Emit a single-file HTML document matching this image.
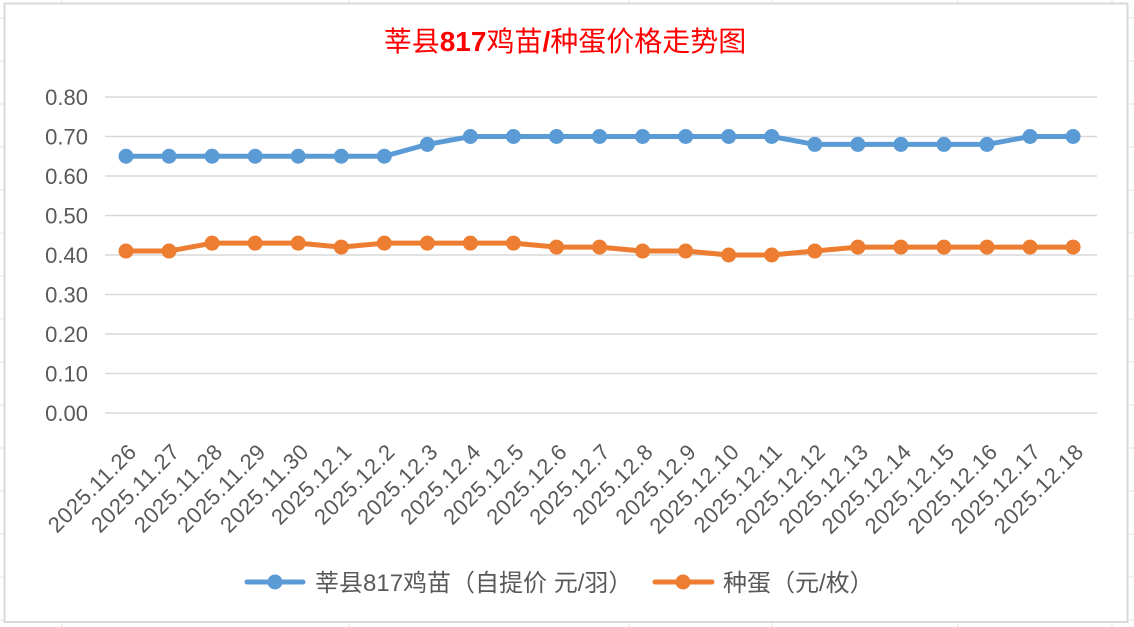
<!DOCTYPE html>
<html>
<head>
<meta charset="utf-8">
<style>
html,body{margin:0;padding:0;background:#fff;}
body{width:1134px;height:627px;overflow:hidden;}
svg{display:block;}
</style>
</head>
<body>
<svg width="1134" height="627" viewBox="0 0 1134 627" xmlns="http://www.w3.org/2000/svg">
<rect x="0" y="0" width="1134" height="627" fill="#fff"/>
<g stroke="#e3e3e3" stroke-width="1">
<line x1="62" y1="0" x2="62" y2="627"/>
<line x1="349" y1="0" x2="349" y2="627"/>
<line x1="629" y1="0" x2="629" y2="627"/>
<line x1="772" y1="0" x2="772" y2="627"/>
<line x1="958" y1="0" x2="958" y2="627"/>
<line x1="1112" y1="0" x2="1112" y2="627"/>
<line x1="0" y1="18" x2="1134" y2="18"/>
<line x1="0" y1="61" x2="1134" y2="61"/>
<line x1="0" y1="104" x2="1134" y2="104"/>
<line x1="0" y1="147" x2="1134" y2="147"/>
<line x1="0" y1="190" x2="1134" y2="190"/>
<line x1="0" y1="233" x2="1134" y2="233"/>
<line x1="0" y1="276" x2="1134" y2="276"/>
<line x1="0" y1="319" x2="1134" y2="319"/>
<line x1="0" y1="362" x2="1134" y2="362"/>
<line x1="0" y1="405" x2="1134" y2="405"/>
<line x1="0" y1="448" x2="1134" y2="448"/>
<line x1="0" y1="491" x2="1134" y2="491"/>
<line x1="0" y1="534" x2="1134" y2="534"/>
<line x1="0" y1="577" x2="1134" y2="577"/>
<line x1="0" y1="620" x2="1134" y2="620"/>
</g>
<rect x="4.5" y="3.5" width="1123" height="618.5" fill="#fff" stroke="#d9d9d9" stroke-width="2"/>

<text x="565" y="51" text-anchor="middle" fill="#ff0000" font-size="28" font-family="'Liberation Sans','Noto Sans CJK SC',sans-serif">莘县<tspan font-weight="bold">817</tspan>鸡苗<tspan font-weight="bold">/</tspan>种蛋价格走势图</text>

<g stroke="#d9d9d9" stroke-width="1.5">
<line x1="105" y1="97" x2="1097" y2="97"/>
<line x1="105" y1="136.5" x2="1097" y2="136.5"/>
<line x1="105" y1="176" x2="1097" y2="176"/>
<line x1="105" y1="215.5" x2="1097" y2="215.5"/>
<line x1="105" y1="255" x2="1097" y2="255"/>
<line x1="105" y1="294.5" x2="1097" y2="294.5"/>
<line x1="105" y1="334" x2="1097" y2="334"/>
<line x1="105" y1="373.5" x2="1097" y2="373.5"/>
<line x1="105" y1="413" x2="1097" y2="413"/>
</g>

<g fill="#595959" font-size="22" font-family="'Liberation Sans',sans-serif" text-anchor="end">
<text x="88" y="105">0.80</text>
<text x="88" y="144.5">0.70</text>
<text x="88" y="184">0.60</text>
<text x="88" y="223.5">0.50</text>
<text x="88" y="263">0.40</text>
<text x="88" y="302.5">0.30</text>
<text x="88" y="342">0.20</text>
<text x="88" y="381.5">0.10</text>
<text x="88" y="421">0.00</text>
</g>

<g fill="#595959" font-size="22" letter-spacing="0.6" font-family="'Liberation Sans',sans-serif" text-anchor="end">
<text x="138" y="453" transform="rotate(-45 138 453)">2025.11.26</text>
<text x="181.05" y="453" transform="rotate(-45 181.05 453)">2025.11.27</text>
<text x="224.1" y="453" transform="rotate(-45 224.1 453)">2025.11.28</text>
<text x="267.15" y="453" transform="rotate(-45 267.15 453)">2025.11.29</text>
<text x="310.2" y="453" transform="rotate(-45 310.2 453)">2025.11.30</text>
<text x="353.25" y="453" transform="rotate(-45 353.25 453)">2025.12.1</text>
<text x="396.3" y="453" transform="rotate(-45 396.3 453)">2025.12.2</text>
<text x="439.35" y="453" transform="rotate(-45 439.35 453)">2025.12.3</text>
<text x="482.4" y="453" transform="rotate(-45 482.4 453)">2025.12.4</text>
<text x="525.45" y="453" transform="rotate(-45 525.45 453)">2025.12.5</text>
<text x="568.5" y="453" transform="rotate(-45 568.5 453)">2025.12.6</text>
<text x="611.55" y="453" transform="rotate(-45 611.55 453)">2025.12.7</text>
<text x="654.6" y="453" transform="rotate(-45 654.6 453)">2025.12.8</text>
<text x="697.65" y="453" transform="rotate(-45 697.65 453)">2025.12.9</text>
<text x="740.7" y="453" transform="rotate(-45 740.7 453)">2025.12.10</text>
<text x="783.75" y="453" transform="rotate(-45 783.75 453)">2025.12.11</text>
<text x="826.8" y="453" transform="rotate(-45 826.8 453)">2025.12.12</text>
<text x="869.85" y="453" transform="rotate(-45 869.85 453)">2025.12.13</text>
<text x="912.9" y="453" transform="rotate(-45 912.9 453)">2025.12.14</text>
<text x="955.95" y="453" transform="rotate(-45 955.95 453)">2025.12.15</text>
<text x="999" y="453" transform="rotate(-45 999 453)">2025.12.16</text>
<text x="1042.05" y="453" transform="rotate(-45 1042.05 453)">2025.12.17</text>
<text x="1085.1" y="453" transform="rotate(-45 1085.1 453)">2025.12.18</text>
</g>

<polyline fill="none" stroke="#5B9BD5" stroke-width="5" stroke-linejoin="round" stroke-linecap="round"
points="126,156.25 169.05,156.25 212.1,156.25 255.15,156.25 298.2,156.25 341.25,156.25 384.3,156.25 427.35,144.4 470.4,136.5 513.45,136.5 556.5,136.5 599.55,136.5 642.6,136.5 685.65,136.5 728.7,136.5 771.75,136.5 814.8,144.4 857.85,144.4 900.9,144.4 943.95,144.4 987,144.4 1030.05,136.5 1073.1,136.5"/>
<g fill="#5B9BD5">
<circle cx="126" cy="156.25" r="7.5"/>
<circle cx="169.05" cy="156.25" r="7.5"/>
<circle cx="212.1" cy="156.25" r="7.5"/>
<circle cx="255.15" cy="156.25" r="7.5"/>
<circle cx="298.2" cy="156.25" r="7.5"/>
<circle cx="341.25" cy="156.25" r="7.5"/>
<circle cx="384.3" cy="156.25" r="7.5"/>
<circle cx="427.35" cy="144.4" r="7.5"/>
<circle cx="470.4" cy="136.5" r="7.5"/>
<circle cx="513.45" cy="136.5" r="7.5"/>
<circle cx="556.5" cy="136.5" r="7.5"/>
<circle cx="599.55" cy="136.5" r="7.5"/>
<circle cx="642.6" cy="136.5" r="7.5"/>
<circle cx="685.65" cy="136.5" r="7.5"/>
<circle cx="728.7" cy="136.5" r="7.5"/>
<circle cx="771.75" cy="136.5" r="7.5"/>
<circle cx="814.8" cy="144.4" r="7.5"/>
<circle cx="857.85" cy="144.4" r="7.5"/>
<circle cx="900.9" cy="144.4" r="7.5"/>
<circle cx="943.95" cy="144.4" r="7.5"/>
<circle cx="987" cy="144.4" r="7.5"/>
<circle cx="1030.05" cy="136.5" r="7.5"/>
<circle cx="1073.1" cy="136.5" r="7.5"/>
</g>

<polyline fill="none" stroke="#ED7D31" stroke-width="5" stroke-linejoin="round" stroke-linecap="round"
points="126,251.05 169.05,251.05 212.1,243.15 255.15,243.15 298.2,243.15 341.25,247.1 384.3,243.15 427.35,243.15 470.4,243.15 513.45,243.15 556.5,247.1 599.55,247.1 642.6,251.05 685.65,251.05 728.7,255 771.75,255 814.8,251.05 857.85,247.1 900.9,247.1 943.95,247.1 987,247.1 1030.05,247.1 1073.1,247.1"/>
<g fill="#ED7D31">
<circle cx="126" cy="251.05" r="7.5"/>
<circle cx="169.05" cy="251.05" r="7.5"/>
<circle cx="212.1" cy="243.15" r="7.5"/>
<circle cx="255.15" cy="243.15" r="7.5"/>
<circle cx="298.2" cy="243.15" r="7.5"/>
<circle cx="341.25" cy="247.1" r="7.5"/>
<circle cx="384.3" cy="243.15" r="7.5"/>
<circle cx="427.35" cy="243.15" r="7.5"/>
<circle cx="470.4" cy="243.15" r="7.5"/>
<circle cx="513.45" cy="243.15" r="7.5"/>
<circle cx="556.5" cy="247.1" r="7.5"/>
<circle cx="599.55" cy="247.1" r="7.5"/>
<circle cx="642.6" cy="251.05" r="7.5"/>
<circle cx="685.65" cy="251.05" r="7.5"/>
<circle cx="728.7" cy="255" r="7.5"/>
<circle cx="771.75" cy="255" r="7.5"/>
<circle cx="814.8" cy="251.05" r="7.5"/>
<circle cx="857.85" cy="247.1" r="7.5"/>
<circle cx="900.9" cy="247.1" r="7.5"/>
<circle cx="943.95" cy="247.1" r="7.5"/>
<circle cx="987" cy="247.1" r="7.5"/>
<circle cx="1030.05" cy="247.1" r="7.5"/>
<circle cx="1073.1" cy="247.1" r="7.5"/>
</g>

<line x1="247" y1="582" x2="303" y2="582" stroke="#5B9BD5" stroke-width="5" stroke-linecap="round"/>
<circle cx="275" cy="582" r="7.5" fill="#5B9BD5"/>
<text x="315" y="591" fill="#595959" font-size="24" font-family="'Liberation Sans','Noto Sans CJK SC',sans-serif">莘县817鸡苗（自提价 元/羽）</text>
<line x1="655" y1="582" x2="712" y2="582" stroke="#ED7D31" stroke-width="5" stroke-linecap="round"/>
<circle cx="683" cy="582" r="7.5" fill="#ED7D31"/>
<text x="723" y="591" fill="#595959" font-size="24" font-family="'Liberation Sans','Noto Sans CJK SC',sans-serif">种蛋（元/枚）</text>
</svg>
</body>
</html>
